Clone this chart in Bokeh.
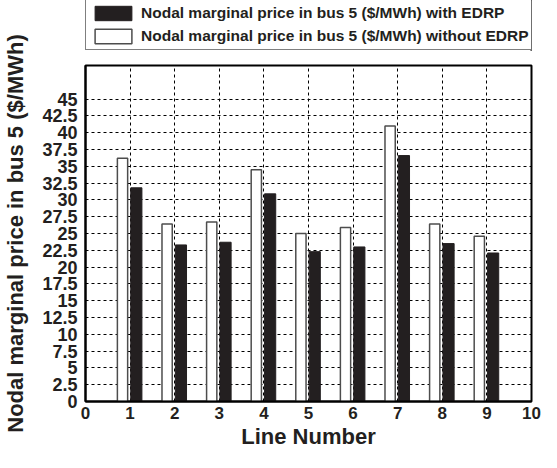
from bokeh.plotting import figure
from bokeh.models import ColumnDataSource, FixedTicker, Range1d, Legend, LegendItem, Title
from bokeh.layouts import row, column
from bokeh.transform import dodge
from bokeh.embed import file_html
from bokeh.resources import INLINE

# ---- data ----
lines = [1, 2, 3, 4, 5, 6, 7, 8, 9]
price_with_edrp = [31.8, 23.3, 23.7, 30.9, 22.3, 23.0, 36.6, 23.5, 22.1]
price_without_edrp = [36.2, 26.4, 26.7, 34.5, 25.0, 25.9, 41.0, 26.4, 24.6]
x_ticks = [0, 1, 2, 3, 4, 5, 6, 7, 8, 9, 10]
y_ticks = [0, 2.5, 5, 7.5, 10, 12.5, 15, 17.5, 20, 22.5, 25, 27.5, 30, 32.5, 35, 37.5, 40, 42.5, 45]
y_tick_labels = ["0", "2.5", "5", "7.5", "10", "12.5", "15", "17.5", "20", "22.5", "25",
                 "27.5", "30", "32.5", "35", "37.5", "40", "42.5", "45"]
x_label = "Line Number"
y_label = "Nodal marginal price in bus 5 ($/MWh)"
label_with = "Nodal marginal price in bus 5 ($/MWh) with EDRP"
label_without = "Nodal marginal price in bus 5 ($/MWh) without EDRP"

DARK = "#231f20"
FONT = "Liberation Sans"
WO_STYLE = dict(fill_color="white", line_color="#4d4d4d", line_width=1.5)
W_STYLE = dict(fill_color=DARK, line_color=DARK, line_width=1)

src = ColumnDataSource(dict(line=lines, w=price_with_edrp, wo=price_without_edrp))

# ---------- main chart ----------
p = figure(
    width=511, height=388,
    min_border_left=55, min_border_right=10, min_border_top=2, min_border_bottom=50,
    x_range=Range1d(0, 10), y_range=Range1d(0, 50),
    output_backend="svg", toolbar_location=None,
    x_axis_label=x_label,
)
p.background_fill_color = "white"
p.border_fill_color = "white"
p.outline_line_color = "black"
p.outline_line_width = 2

p.vbar(x=dodge("line", -0.17, range=p.x_range), top="wo", width=0.23, source=src, **WO_STYLE)
p.vbar(x=dodge("line", 0.14, range=p.x_range), top="w", width=0.25, source=src, **W_STYLE)

p.xaxis.ticker = FixedTicker(ticks=x_ticks)
p.yaxis.ticker = FixedTicker(ticks=y_ticks)
p.yaxis.major_label_overrides = {t: s for t, s in zip(y_ticks, y_tick_labels)}
for ax in (p.xaxis, p.yaxis):
    ax.axis_line_color = "black"
    ax.axis_line_width = 2
    ax.major_tick_line_color = None
    ax.minor_tick_line_color = None
    ax.major_tick_out = 0
    ax.minor_tick_out = 0
    ax.major_label_text_font = FONT
    ax.major_label_text_font_style = "bold"
    ax.major_label_text_color = DARK
    ax.axis_label_text_font = FONT
    ax.axis_label_text_font_style = "bold"
    ax.axis_label_text_font_size = "22px"
    ax.axis_label_text_color = DARK
p.xaxis.major_label_text_font_size = "17px"
p.yaxis.major_label_text_font_size = "18px"
p.xaxis.major_label_standoff = 5
p.yaxis.major_label_standoff = 8
p.xaxis.axis_label_standoff = 2

for g in (p.xgrid, p.ygrid):
    g.grid_line_color = "black"
    g.grid_line_dash = "3 3"
    g.grid_line_width = 1
p.xgrid.ticker = FixedTicker(ticks=x_ticks)
p.ygrid.ticker = FixedTicker(ticks=y_ticks)

# ---------- legend strip (bars drawn out of view, only the legend shows) ----------
lg = figure(width=511, height=63, x_range=Range1d(-20, -10), y_range=Range1d(0, 1),
            x_axis_type=None, y_axis_type=None,
            min_border_left=53, min_border_right=0, min_border_top=0, min_border_bottom=13,
            output_backend="svg", toolbar_location=None)
lg.grid.visible = False
lg.outline_line_color = None
lw = lg.vbar(x="line", top="w", width=0.25, source=src, **W_STYLE)
lwo = lg.vbar(x="line", top="wo", width=0.23, source=src, **WO_STYLE)
legend = Legend(
    items=[LegendItem(label=label_with, renderers=[lw]),
           LegendItem(label=label_without, renderers=[lwo])],
    location="bottom_left",
    orientation="vertical",
    glyph_width=46, glyph_height=18, label_height=18,
    label_standoff=5, spacing=5, padding=4, margin=0,
    border_line_color="black", border_line_width=1.5,
    label_text_font=FONT, label_text_font_style="bold",
    label_text_font_size="15.5px", label_text_color=DARK,
    background_fill_color="white", background_fill_alpha=1,
)
lg.add_layout(legend, "center")

# ---------- y-axis title strip ----------
yl = figure(width=30, height=451, x_range=Range1d(0, 1), y_range=Range1d(0, 1),
            x_axis_type=None, y_axis_type=None,
            min_border_left=2, min_border_right=0, min_border_top=15, min_border_bottom=0,
            output_backend="svg", toolbar_location=None)
yl.grid.visible = False
yl.outline_line_color = None
yl.add_layout(Title(text=y_label, align="center", text_font=FONT, text_font_style="bold",
                    text_font_size="22px", text_color=DARK, standoff=0, offset=0), "left")

layout = row(yl, column(lg, p, spacing=0), spacing=0)
open("out.html", "w").write(file_html(layout, INLINE))
